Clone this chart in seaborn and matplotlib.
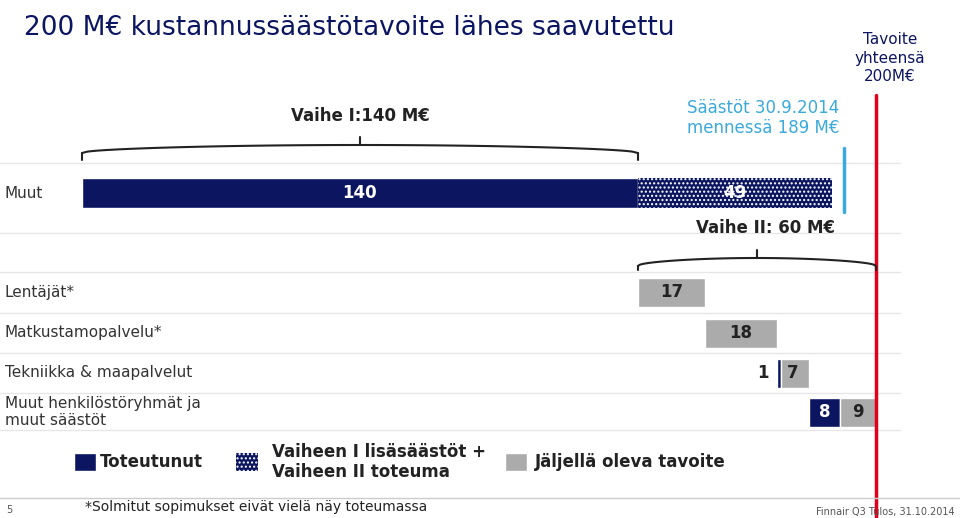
import matplotlib
matplotlib.use("Agg")
import matplotlib.pyplot as plt
import seaborn as sns
import numpy as np

sns.set_style("white")
NAVY = "#0b1560"; GRAY = "#ababab"; LBLUE = "#3aa9dc"; RED = "#e2001a"

rows = ["Muut", "Lentäjät*", "Matkustamopalvelu*", "Tekniikka & maapalvelut", "Muut henkilöstöryhmät ja\nmuut säästöt"]
realized = [140, 0, 0, 1, 8]
extra = [49, 0, 0, 0, 0]
remaining = [0, 17, 18, 7, 9]
target_total = 200
savings_to_date = 189
row_y = [193, 292, 333, 373, 412]

W, H = 960, 518
fig = plt.figure(figsize=(W/100, H/100), dpi=100)
ax = fig.add_axes([0, 0, 1, 1])
s = 794/200.0
x0 = 82
ax.set_xlim(-x0/s, (W-x0)/s)
ax.set_ylim(H, 0)
ax.axis("off")
def px(x): return x/s - x0/s  # pixel -> data x

for y in [163, 233, 272, 313, 353, 393, 430]:
    ax.plot([px(0), px(900)], [y, y], color="#e6e6e6", lw=1)

cum = 0
for i, (r, e, g, y) in enumerate(zip(realized, extra, remaining, row_y)):
    h = 30 if i == 0 else 29
    start = cum
    if r:
        ax.barh(y, r, left=start, height=h, color=NAVY)
    if e:
        ax.barh(y, e, left=start+r, height=h, color=NAVY, edgecolor="white", hatch="....", lw=0)
    if g:
        ax.barh(y, g, left=start+r+e, height=h, color=GRAY)
    cum = start + r + g if i == 0 else start + r + e + g
    ax.text(px(5), y, rows[i], ha="left", va="center", fontsize=11, color="#333333")

ax.text(70, 193, "140", ha="center", va="center", color="white", fontsize=12, fontweight="bold")
ax.text(164.5, 193, "49", ha="center", va="center", color="white", fontsize=12, fontweight="bold")
ax.text(148.5, 292, "17", ha="center", va="center", color="#222", fontsize=12, fontweight="bold")
ax.text(166, 333, "18", ha="center", va="center", color="#222", fontsize=12, fontweight="bold")
ax.text(171.5, 373, "1", ha="center", va="center", color="#222", fontsize=12, fontweight="bold")
ax.text(179, 373, "7", ha="center", va="center", color="#222", fontsize=12, fontweight="bold")
ax.text(187, 412, "8", ha="center", va="center", color="white", fontsize=12, fontweight="bold")
ax.text(195.5, 412, "9", ha="center", va="center", color="#222", fontsize=12, fontweight="bold")

ax.plot([target_total]*2, [95, 518], color=RED, lw=2.5)
ax.plot([savings_to_date+3]*2, [148, 212], color=LBLUE, lw=2.5)

def brace(xa, xb, xm, ytop, ybot):
    ax.plot([xa, xa], [ybot, ytop+8], color="#222", lw=1.5)
    ax.plot([xb, xb], [ybot, ytop+8], color="#222", lw=1.5)
    t = np.linspace(0, 1, 50)
    for xe in (xa, xb):
        xs = xe + (xm - xe)*t
        ys = ytop + 8 - 8*np.sin(np.pi*t/2)**0.5
        ax.plot(xs, ys, color="#222", lw=1.5)
    ax.plot([xm, xm], [ytop, ytop-8], color="#222", lw=1.5)
brace(0, 140, 70, 145, 160)
brace(140, 200, 170, 258, 270)

ax.text(px(24), 28, "200 M€ kustannussäästötavoite lähes saavutettu", fontsize=19, color=NAVY, va="center")
ax.text(70, 121, "Vaihe I:140 M€", ha="center", fontsize=12, color="#222", fontweight="bold")
ax.text(px(763), 118, "Säästöt 30.9.2014\nmennessä 189 M€", ha="center", va="center", fontsize=12, color=LBLUE)
ax.text(px(890), 58, "Tavoite\nyhteensä\n200M€", ha="center", va="center", fontsize=11, color=NAVY, linespacing=1.3)
ax.text(px(765), 228, "Vaihe II: 60 M€", ha="center", va="center", fontsize=12, color="#222", fontweight="bold")

ax.barh(462, px(96)-px(74), left=px(74), height=18, color=NAVY)
ax.text(px(100), 462, "Toteutunut", va="center", fontsize=12, fontweight="bold", color="#222")
ax.barh(462, px(258)-px(236), left=px(236), height=18, color=NAVY, edgecolor="white", hatch="....", lw=0)
ax.text(px(272), 462, "Vaiheen I lisäsäästöt +\nVaiheen II toteuma", va="center", fontsize=12, fontweight="bold", color="#222")
ax.barh(462, px(527)-px(505), left=px(505), height=18, color=GRAY)
ax.text(px(535), 462, "Jäljellä oleva tavoite", va="center", fontsize=12, fontweight="bold", color="#222")

ax.plot([px(0), px(960)], [498, 498], color="#cccccc", lw=1)
ax.text(px(6), 510, "5", fontsize=7, va="center", color="#555")
ax.text(px(85), 507, "*Solmitut sopimukset eivät vielä näy toteumassa", fontsize=10, va="center", color="#222")
ax.text(px(955), 512, "Finnair Q3 Tulos, 31.10.2014", fontsize=7, ha="right", va="center", color="#555")

fig.savefig("out.png", dpi=100)
